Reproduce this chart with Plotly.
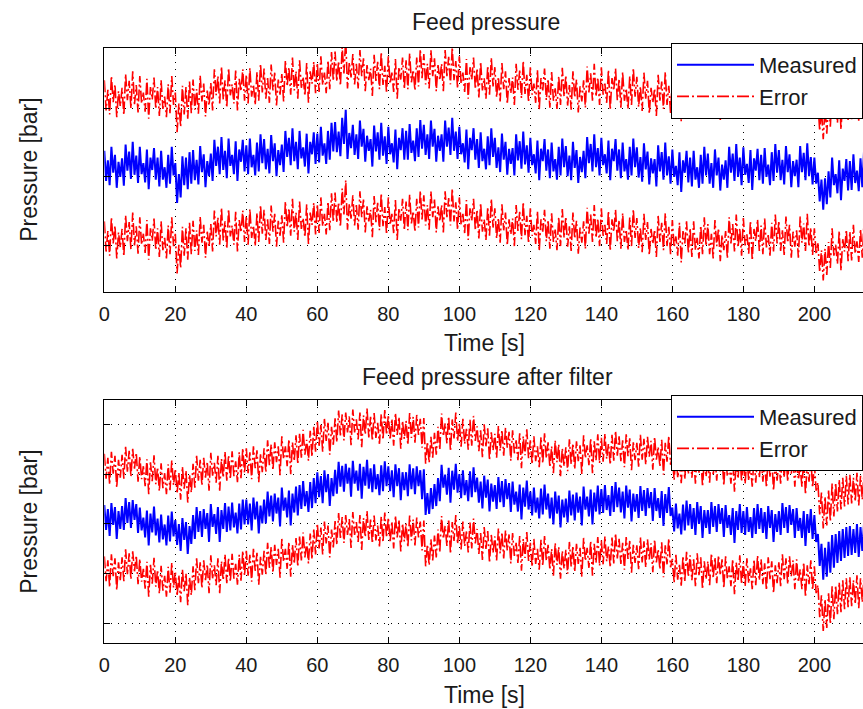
import numpy as np
import plotly.graph_objects as go

# ---------------- data ----------------
time_step_s = 0.5  # sample spacing of the series below [s]

# Feed pressure, measured (relative units; grid step = 1)
measured_raw = [
    0.38, -0.06, 0.24, -0.12, 0.44, 0.06, 0.32, -0.16, 0.22, 0.00,
    0.27, -0.13, 0.47, 0.09, 0.37, -0.03, 0.51, 0.03, 0.31, -0.09,
    0.44, 0.04, 0.20, -0.08, 0.40, -0.18, 0.28, 0.10, 0.42, -0.04,
    0.28, -0.14, 0.38, -0.04, 0.14, -0.16, 0.32, -0.10, 0.44, 0.02,
    0.20, -0.38, 0.04, -0.30, 0.30, -0.12, 0.28, -0.18, 0.36, -0.10,
    0.39, -0.05, 0.25, -0.11, 0.45, 0.07, 0.33, -0.15, 0.23, 0.01,
    0.34, -0.06, 0.54, 0.16, 0.44, 0.04, 0.58, 0.10, 0.38, -0.02,
    0.56, 0.16, 0.32, 0.04, 0.52, -0.06, 0.40, 0.22, 0.54, 0.08,
    0.46, 0.04, 0.56, 0.14, 0.32, 0.02, 0.50, 0.08, 0.62, 0.20,
    0.55, 0.11, 0.41, 0.05, 0.61, 0.23, 0.49, 0.01, 0.39, 0.17,
    0.47, 0.07, 0.67, 0.29, 0.57, 0.17, 0.71, 0.23, 0.51, 0.11,
    0.67, 0.27, 0.43, 0.15, 0.63, 0.05, 0.51, 0.33, 0.65, 0.19,
    0.63, 0.21, 0.73, 0.31, 0.49, 0.19, 0.67, 0.25, 0.79, 0.37,
    0.80, 0.36, 0.66, 0.30, 0.86, 0.48, 0.98, 0.26, 0.64, 0.42,
    0.76, 0.32, 0.62, 0.26, 0.82, 0.44, 0.70, 0.22, 0.60, 0.38,
    0.55, 0.15, 0.75, 0.37, 0.65, 0.25, 0.79, 0.31, 0.59, 0.19,
    0.73, 0.33, 0.49, 0.21, 0.69, 0.11, 0.57, 0.39, 0.71, 0.25,
    0.67, 0.25, 0.77, 0.35, 0.53, 0.23, 0.71, 0.29, 0.83, 0.41,
    0.76, 0.32, 0.62, 0.26, 0.82, 0.44, 0.70, 0.22, 0.60, 0.38,
    0.62, 0.22, 0.82, 0.44, 0.72, 0.32, 0.86, 0.38, 0.66, 0.26,
    0.73, 0.33, 0.49, 0.21, 0.69, 0.11, 0.57, 0.39, 0.71, 0.25,
    0.55, 0.13, 0.65, 0.23, 0.41, 0.11, 0.59, 0.17, 0.71, 0.29,
    0.57, 0.13, 0.43, 0.07, 0.63, 0.25, 0.51, 0.03, 0.41, 0.19,
    0.42, 0.02, 0.62, 0.24, 0.52, 0.12, 0.66, 0.18, 0.46, 0.06,
    0.57, 0.17, 0.33, 0.05, 0.53, -0.05, 0.41, 0.23, 0.55, 0.09,
    0.40, -0.02, 0.50, 0.08, 0.26, -0.04, 0.44, 0.02, 0.56, 0.14,
    0.45, 0.01, 0.31, -0.05, 0.51, 0.13, 0.39, -0.09, 0.29, 0.07,
    0.38, -0.02, 0.58, 0.20, 0.48, 0.08, 0.62, 0.14, 0.42, 0.02,
    0.57, 0.17, 0.33, 0.05, 0.53, -0.05, 0.41, 0.23, 0.55, 0.09,
    0.40, -0.02, 0.50, 0.08, 0.26, -0.04, 0.44, 0.02, 0.56, 0.14,
    0.43, -0.01, 0.29, -0.07, 0.49, 0.11, 0.37, -0.11, 0.27, 0.05,
    0.26, -0.14, 0.46, 0.08, 0.36, -0.04, 0.50, 0.02, 0.30, -0.10,
    0.40, 0.00, 0.16, -0.12, 0.36, -0.22, 0.24, 0.06, 0.38, -0.08,
    0.28, -0.14, 0.38, -0.04, 0.14, -0.16, 0.32, -0.10, 0.44, 0.02,
    0.34, -0.10, 0.20, -0.16, 0.40, 0.02, 0.28, -0.20, 0.18, -0.04,
    0.24, -0.16, 0.44, 0.06, 0.34, -0.06, 0.48, 0.00, 0.28, -0.12,
    0.43, 0.03, 0.19, -0.09, 0.39, -0.19, 0.27, 0.09, 0.41, -0.05,
    0.32, -0.10, 0.42, 0.00, 0.18, -0.12, 0.36, -0.06, 0.48, 0.06,
    0.39, -0.05, 0.25, -0.11, 0.45, 0.07, 0.33, -0.15, 0.23, 0.01,
    0.25, -0.15, 0.45, 0.07, 0.35, -0.05, 0.49, 0.01, 0.29, -0.11,
    0.28, -0.10, 0.06, -0.36, -0.04, -0.48, -0.02, -0.40, 0.08, -0.30,
    0.28, -0.12, 0.04, -0.24, 0.24, -0.34, 0.12, -0.06, 0.26, -0.20,
    0.23, -0.19, 0.33, -0.09, 0.09, -0.21, 0.27, -0.15, 0.39, -0.03,
]

# Feed pressure after filter, measured (relative units; grid step = 1)
measured_filtered = [
    0.38, -0.12, 0.30, -0.24, 0.42, -0.02, 0.34, -0.30, 0.26, -0.10,
    0.36, -0.12, 0.52, 0.02, 0.44, -0.08, 0.48, 0.08, 0.40, -0.18,
    0.33, -0.13, 0.13, -0.27, 0.27, -0.43, 0.21, -0.17, 0.35, -0.23,
    0.11, -0.37, 0.19, -0.31, -0.01, -0.43, 0.17, -0.35, 0.25, -0.25,
    0.08, -0.42, 0.00, -0.54, 0.12, -0.32, 0.04, -0.60, -0.04, -0.40,
    0.18, -0.30, 0.34, -0.16, 0.26, -0.26, 0.30, -0.10, 0.22, -0.36,
    0.40, -0.06, 0.20, -0.20, 0.34, -0.36, 0.28, -0.10, 0.42, -0.16,
    0.35, -0.13, 0.43, -0.07, 0.23, -0.19, 0.41, -0.11, 0.49, -0.01,
    0.49, -0.01, 0.41, -0.13, 0.53, 0.09, 0.45, -0.19, 0.37, 0.01,
    0.49, 0.01, 0.65, 0.15, 0.57, 0.05, 0.61, 0.21, 0.53, -0.05,
    0.73, 0.27, 0.53, 0.13, 0.67, -0.03, 0.61, 0.23, 0.75, 0.17,
    0.78, 0.30, 0.86, 0.36, 0.66, 0.24, 0.84, 0.32, 0.92, 0.42,
    1.04, 0.54, 0.96, 0.42, 1.08, 0.64, 1.00, 0.36, 0.92, 0.56,
    1.09, 0.61, 1.25, 0.75, 1.17, 0.65, 1.21, 0.81, 1.13, 0.55,
    1.27, 0.81, 1.07, 0.67, 1.21, 0.51, 1.15, 0.77, 1.29, 0.71,
    1.12, 0.64, 1.20, 0.70, 1.00, 0.58, 1.18, 0.66, 1.26, 0.76,
    1.16, 0.66, 1.08, 0.54, 1.20, 0.76, 1.12, 0.48, 1.04, 0.68,
    1.04, 0.56, 1.20, 0.70, 1.12, 0.60, 1.16, 0.76, 1.08, 0.50,
    1.10, 0.18, 0.62, 0.20, 0.72, 0.30, 0.80, 0.36, 0.92, 0.46,
    1.19, 0.73, 0.99, 0.59, 1.13, 0.43, 1.07, 0.69, 1.21, 0.63,
    1.00, 0.52, 1.08, 0.58, 0.88, 0.46, 1.06, 0.54, 1.14, 0.64,
    0.93, 0.43, 0.85, 0.31, 0.97, 0.53, 0.89, 0.25, 0.81, 0.45,
    0.78, 0.30, 0.94, 0.44, 0.86, 0.34, 0.90, 0.50, 0.82, 0.24,
    0.85, 0.39, 0.65, 0.25, 0.79, 0.09, 0.73, 0.35, 0.87, 0.29,
    0.65, 0.17, 0.73, 0.23, 0.53, 0.11, 0.71, 0.19, 0.79, 0.29,
    0.61, 0.11, 0.53, -0.01, 0.65, 0.21, 0.57, -0.07, 0.49, 0.13,
    0.51, 0.03, 0.67, 0.17, 0.59, 0.07, 0.63, 0.23, 0.55, -0.03,
    0.75, 0.29, 0.55, 0.15, 0.69, -0.01, 0.63, 0.25, 0.77, 0.19,
    0.70, 0.22, 0.78, 0.28, 0.58, 0.16, 0.76, 0.24, 0.84, 0.34,
    0.73, 0.23, 0.65, 0.11, 0.77, 0.33, 0.69, 0.05, 0.61, 0.25,
    0.60, 0.12, 0.76, 0.26, 0.68, 0.16, 0.72, 0.32, 0.64, 0.06,
    0.72, 0.26, 0.52, 0.12, 0.66, -0.04, 0.60, 0.22, 0.74, 0.16,
    0.33, -0.15, 0.41, -0.09, 0.21, -0.21, 0.39, -0.13, 0.47, -0.03,
    0.40, -0.10, 0.32, -0.22, 0.44, 0.00, 0.36, -0.28, 0.28, -0.08,
    0.28, -0.20, 0.44, -0.06, 0.36, -0.16, 0.40, 0.00, 0.32, -0.26,
    0.38, -0.08, 0.18, -0.22, 0.32, -0.38, 0.26, -0.12, 0.40, -0.18,
    0.26, -0.22, 0.34, -0.16, 0.14, -0.28, 0.32, -0.20, 0.40, -0.10,
    0.32, -0.18, 0.24, -0.30, 0.36, -0.08, 0.28, -0.36, 0.20, -0.16,
    0.26, -0.22, 0.42, -0.08, 0.34, -0.18, 0.38, -0.02, 0.30, -0.28,
    0.32, -0.14, 0.12, -0.28, 0.26, -0.44, 0.20, -0.18, 0.30, -0.30,
    0.18, -0.36, -0.20, -0.84, -0.40, -1.12, -0.48, -1.06, -0.36, -0.98,
    -0.22, -0.88, -0.20, -0.78, -0.14, -0.74, -0.10, -0.68, -0.06, -0.64,
    -0.04, -0.62, -0.10, -0.58, 0.00, -0.66, -0.06, -0.54, 0.02, -0.60,
]

error_margin_raw = 1.03       # error band half-width, top panel
error_margin_filtered = 1.03  # error band half-width, bottom panel

x_tick_values = [0, 20, 40, 60, 80, 100, 120, 140, 160, 180, 200]
x_tick_labels = [str(v) for v in x_tick_values]
y_ticks_raw = [-1, 0, 1]
y_ticks_filtered = [-2, -1, 0, 1, 2]

panel_titles = ["Feed pressure", "Feed pressure after filter"]
x_label = "Time [s]"
y_label = "Pressure [bar]"
series_names = ["Measured", "Error"]

# ---------------- figure ----------------
W, H = 863, 709
FONT = "Liberation Sans, Arial, Helvetica, sans-serif"
TXT = "#1a1a1a"
BLUE = "rgb(0,0,255)"
RED = "rgb(255,0,0)"
DASHDOT = "12px,3px,2px,3px"

t_raw = np.arange(len(measured_raw)) * time_step_s
t_fil = np.arange(len(measured_filtered)) * time_step_s
m_raw = np.array(measured_raw)
m_fil = np.array(measured_filtered)

fig = go.Figure()

panels = [
    (t_raw, m_raw, error_margin_raw, "x", "y", "legend"),
    (t_fil, m_fil, error_margin_filtered, "x2", "y2", "legend2"),
]
for t, m, em, xa, ya, lg in panels:
    fig.add_trace(go.Scatter(x=t, y=m, mode="lines", name=series_names[0],
                             line=dict(color=BLUE, width=2.0),
                             xaxis=xa, yaxis=ya, legend=lg, legendgroup=lg + "m"))
    fig.add_trace(go.Scatter(x=t, y=m + em, mode="lines", name=series_names[1],
                             line=dict(color=RED, width=1.6, dash=DASHDOT),
                             xaxis=xa, yaxis=ya, legend=lg, legendgroup=lg + "e"))
    fig.add_trace(go.Scatter(x=t, y=m - em, mode="lines", name=series_names[1],
                             line=dict(color=RED, width=1.6, dash=DASHDOT),
                             xaxis=xa, yaxis=ya, legend=lg, legendgroup=lg + "e",
                             showlegend=False))

x_left = 99 / W
top_dom = [1 - 292 / H, 1 - 48 / H]
bot_dom = [1 - 643 / H, 1 - 400 / H]
x_range = [0, 213.7]

def xaxis(anchor):
    return dict(domain=[x_left, 1], anchor=anchor, range=x_range,
                tickvals=x_tick_values, ticktext=x_tick_labels,
                showline=True, mirror="allticks", linecolor="black", linewidth=1,
                ticks="inside", ticklen=6, tickcolor="black", tickwidth=1,
                showgrid=True, gridcolor="black", gridwidth=1, griddash="1px,6px",
                zeroline=False, ticklabelstandoff=4,
                tickfont=dict(family=FONT, size=20, color=TXT))

def yaxis(anchor, dom, rng, tv):
    return dict(domain=dom, anchor=anchor, range=rng, tickvals=tv,
                showticklabels=False, showline=True, mirror=False,
                linecolor="black", linewidth=1, ticks="inside", ticklen=6,
                tickcolor="black", showgrid=True, gridcolor="black", gridwidth=1,
                griddash="1px,6px", zeroline=False)

def legend(ytop):
    return dict(x=670 / W, y=ytop, xanchor="left", yanchor="top",
                bgcolor="white", bordercolor="black", borderwidth=1,
                font=dict(family=FONT, size=22, color=TXT),
                itemwidth=77, tracegroupgap=4, traceorder="normal")

annotations = [
    dict(text=panel_titles[0], x=483 / W, y=1 - 22 / H),
    dict(text=panel_titles[1], x=485 / W, y=1 - 377 / H),
    dict(text=x_label, x=482 / W, y=1 - 343 / H),
    dict(text=x_label, x=482 / W, y=1 - 695 / H),
    dict(text=y_label, x=23 / W, y=1 - 170 / H, textangle=-90),
    dict(text=y_label, x=23 / W, y=1 - 522 / H, textangle=-90),
]
for a in annotations:
    a.update(xref="paper", yref="paper", xanchor="center", yanchor="middle",
             showarrow=False, font=dict(family=FONT, size=23, color=TXT))

fig.update_layout(
    width=W, height=H, margin=dict(l=0, r=0, t=0, b=0),
    paper_bgcolor="white", plot_bgcolor="white",
    xaxis=xaxis("y"), yaxis=yaxis("x", top_dom, [-1.68, 1.88], y_ticks_raw),
    xaxis2=xaxis("y2"), yaxis2=yaxis("x2", bot_dom, [-2.39, 2.49], y_ticks_filtered),
    legend=legend(1 - 43 / H), legend2=legend(1 - 395 / H),
    annotations=annotations,
)

fig.write_html(
    "out.html",
    config={"displayModeBar": False},
    post_script="document.body.style.margin='0px';document.body.style.overflow='hidden';",
)
